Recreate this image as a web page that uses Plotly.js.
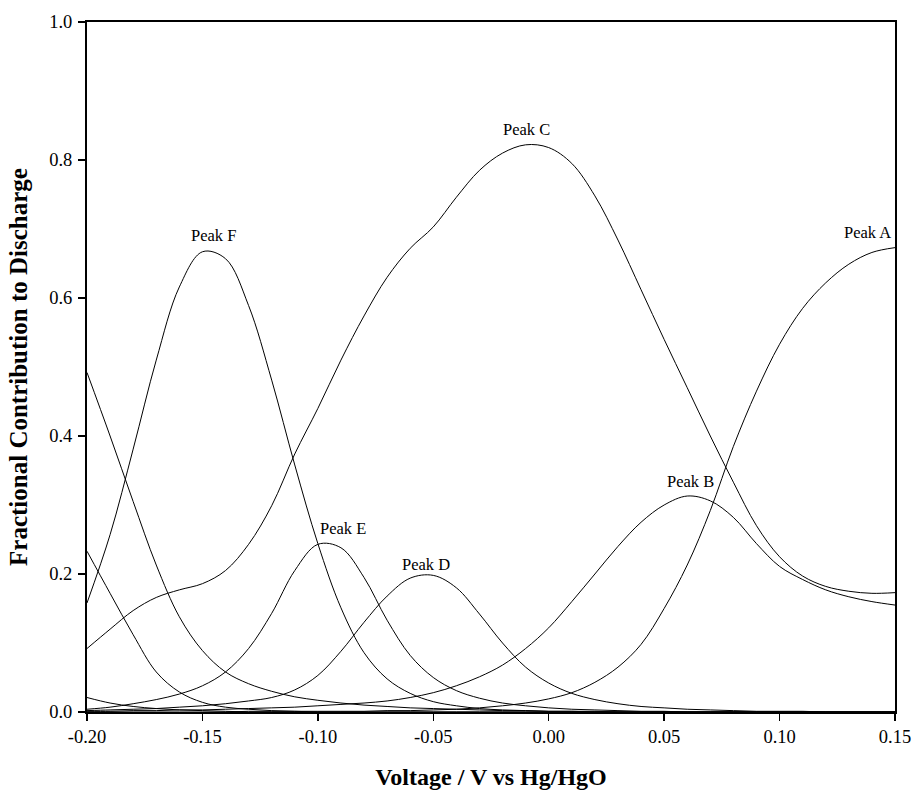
<!DOCTYPE html>
<html>
<head>
<meta charset="utf-8">
<script src="https://cdn.plot.ly/plotly-3.0.1.min.js"></script>
<style>html,body{margin:0;padding:0;background:#fff;}#chart{width:913px;height:791px;}</style>
</head>
<body>
<div id="chart"></div>
<script>
const voltage = [-0.20,-0.19,-0.18,-0.17,-0.16,-0.15,-0.14,-0.13,-0.12,-0.11,-0.10,-0.09,-0.08,-0.07,-0.06,-0.05,-0.04,-0.03,-0.02,-0.01,0.00,0.01,0.02,0.03,0.04,0.05,0.06,0.07,0.08,0.09,0.10,0.11,0.12,0.13,0.14,0.15];

const peakA = [0,0,0,0,0,0,0,0.001,0.001,0.001,0.001,0.001,0.001,0.002,0.002,0.003,0.004,0.006,0.009,0.013,0.019,0.028,0.043,0.065,0.098,0.150,0.213,0.292,0.385,0.465,0.533,0.585,0.622,0.649,0.666,0.673];
const peakB = [0.001,0.001,0.002,0.002,0.003,0.003,0.004,0.005,0.006,0.007,0.009,0.011,0.013,0.016,0.021,0.028,0.038,0.051,0.068,0.092,0.122,0.160,0.200,0.240,0.275,0.300,0.313,0.306,0.282,0.244,0.211,0.192,0.177,0.167,0.160,0.155];
const peakC = [0.092,0.120,0.147,0.166,0.177,0.186,0.205,0.243,0.299,0.374,0.440,0.510,0.574,0.630,0.672,0.703,0.746,0.785,0.810,0.822,0.818,0.795,0.748,0.684,0.612,0.540,0.470,0.400,0.333,0.270,0.225,0.197,0.182,0.175,0.172,0.173];
const peakD = [0.002,0.003,0.004,0.005,0.007,0.009,0.012,0.016,0.021,0.032,0.053,0.088,0.130,0.168,0.194,0.198,0.180,0.142,0.100,0.065,0.042,0.027,0.018,0.012,0.008,0.006,0.004,0.003,0.002,0.001,0.001,0.001,0,0,0,0];
const peakE = [0.004,0.007,0.012,0.018,0.026,0.038,0.058,0.092,0.143,0.205,0.243,0.238,0.195,0.133,0.082,0.050,0.031,0.020,0.013,0.009,0.006,0.004,0.003,0.002,0.001,0.001,0,0,0,0,0,0,0,0,0,0];
const peakF = [0.158,0.257,0.381,0.510,0.616,0.667,0.657,0.589,0.481,0.358,0.244,0.151,0.086,0.048,0.027,0.015,0.009,0.005,0.003,0.002,0.001,0.001,0,0,0,0,0,0,0,0,0,0,0,0,0,0];
const peakG = [0.492,0.400,0.305,0.213,0.138,0.089,0.058,0.041,0.030,0.022,0.017,0.013,0.010,0.008,0.006,0.005,0.004,0.003,0.002,0.002,0.001,0.001,0.001,0,0,0,0,0,0,0,0,0,0,0,0,0];
const peakH = [0.233,0.172,0.112,0.058,0.029,0.014,0.007,0.004,0.002,0.001,0,0,0,0,0,0,0,0,0,0,0,0,0,0,0,0,0,0,0,0,0,0,0,0,0,0];
const peakI = [0.021,0.013,0.008,0.005,0.003,0.002,0.001,0,0,0,0,0,0,0,0,0,0,0,0,0,0,0,0,0,0,0,0,0,0,0,0,0,0,0,0,0];

const labelText = ["Peak A","Peak B","Peak C","Peak D","Peak E","Peak F"];
const labelX = [0.1382,0.0612,-0.0098,-0.0531,-0.0889,-0.1452];
const labelY = [0.6946,0.3343,0.8435,0.2135,0.2657,0.6909];

const xTickVals = [-0.20,-0.15,-0.10,-0.05,0.00,0.05,0.10,0.15];
const xTickText = ["-0.20","-0.15","-0.10","-0.05","0.00","0.05","0.10","0.15"];
const yTickVals = [0.0,0.2,0.4,0.6,0.8,1.0];
const yTickText = ["0.0","0.2","0.4","0.6","0.8","1.0"];

const series = [peakA, peakB, peakC, peakD, peakE, peakF, peakG, peakH, peakI];
const traces = series.map(s => ({
  x: voltage, y: s, type: 'scatter', mode: 'lines',
  line: {color: '#000', width: 1, shape: 'spline', smoothing: 1},
  hoverinfo: 'skip', showlegend: false
}));

const serif = 'Liberation Serif, Times New Roman, serif';
const annotations = labelText.map((t, i) => ({
  x: labelX[i], y: labelY[i], xref: 'x', yref: 'y', text: t, showarrow: false,
  font: {family: serif, size: 16.5, color: '#000'}, xanchor: 'center', yanchor: 'middle'
}));

const layout = {
  width: 913, height: 791,
  margin: {l: 87, r: 18, t: 22, b: 79},
  paper_bgcolor: '#fff', plot_bgcolor: '#fff',
  showlegend: false,
  font: {family: serif, color: '#000'},
  xaxis: {
    range: [-0.20, 0.15], autorange: false,
    tickmode: 'array', tickvals: xTickVals, ticktext: xTickText,
    ticks: 'outside', ticklen: 7, tickwidth: 1.5, tickcolor: '#000',
    showline: true, linewidth: 2, linecolor: '#000', mirror: true,
    showgrid: false, zeroline: false,
    tickfont: {family: serif, size: 18.5, color: '#000'},
    title: {text: '<b>Voltage / V vs Hg/HgO</b>', font: {family: serif, size: 24, color: '#000'}, standoff: 22}
  },
  yaxis: {
    range: [0, 1.0], autorange: false,
    tickmode: 'array', tickvals: yTickVals, ticktext: yTickText,
    ticks: 'outside', ticklen: 7, tickwidth: 1.5, tickcolor: '#000',
    ticklabelstandoff: 2,
    showline: true, linewidth: 2, linecolor: '#000', mirror: true,
    showgrid: false, zeroline: false,
    tickfont: {family: serif, size: 18.5, color: '#000'},
    title: {text: '<b>Fractional Contribution to Discharge</b>', font: {family: serif, size: 25, color: '#000'}, standoff: 14}
  },
  annotations: annotations
};

Plotly.newPlot('chart', traces, layout, {displayModeBar: false, staticPlot: true});
</script>
</body>
</html>
